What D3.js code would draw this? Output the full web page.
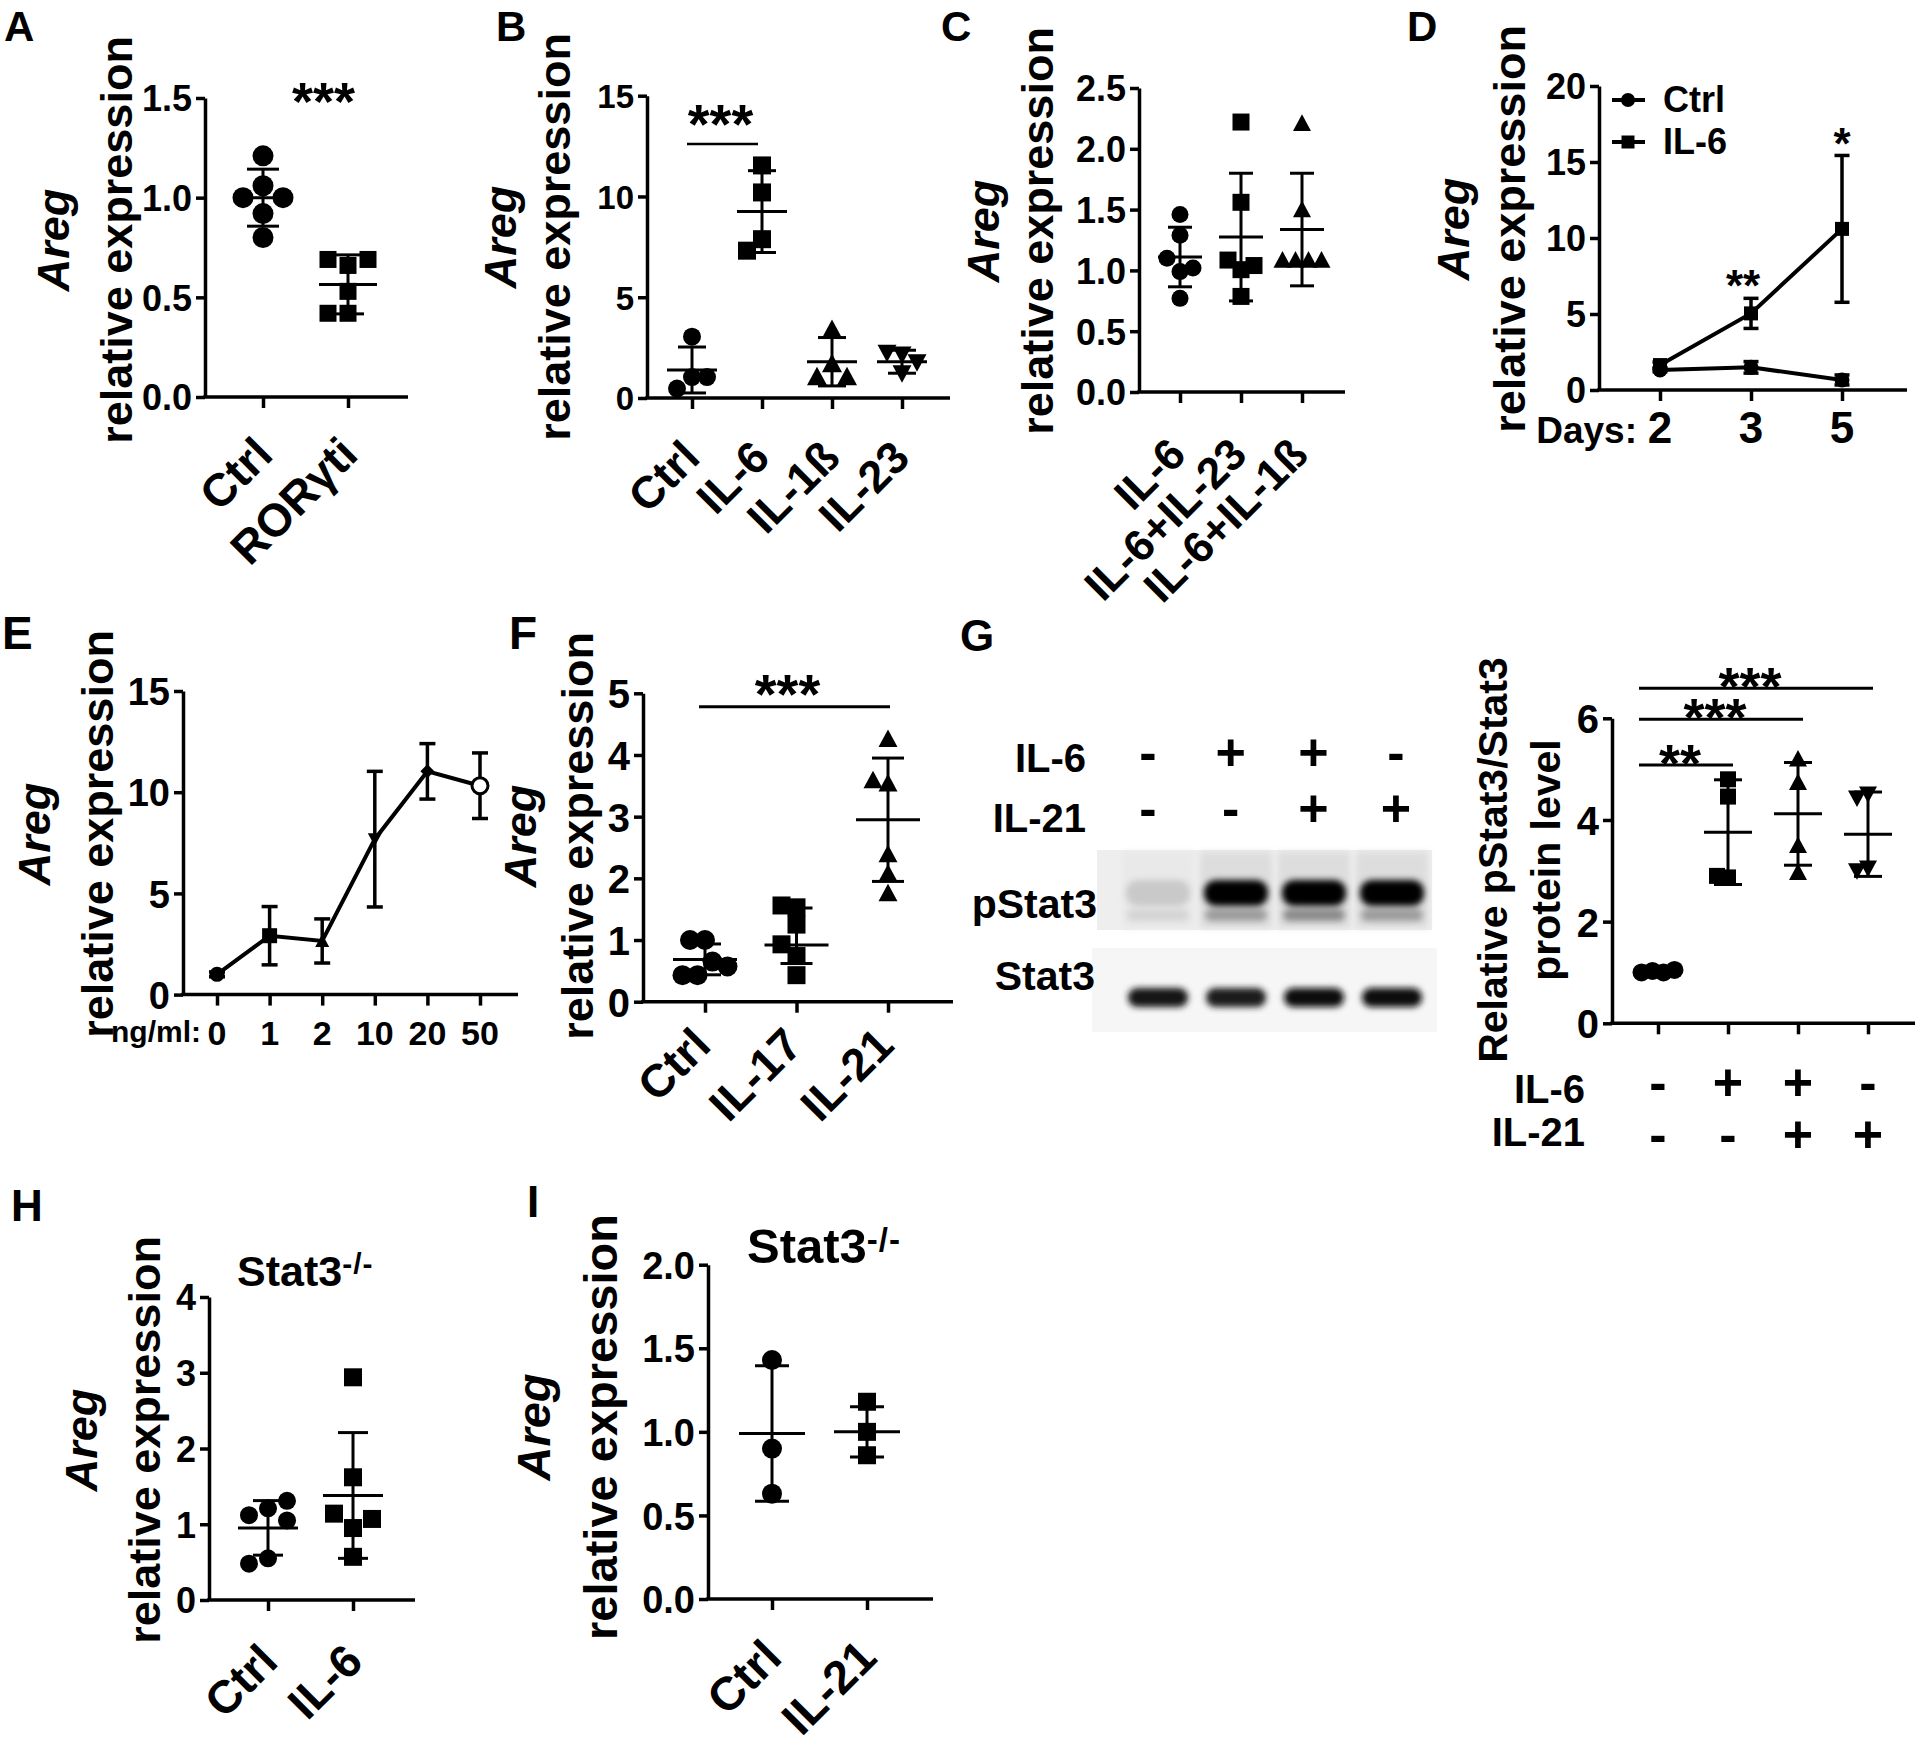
<!DOCTYPE html>
<html>
<head>
<meta charset="utf-8">
<script src="https://cdn.jsdelivr.net/npm/d3@7"></script>
<style>
  body { margin: 0; background: #fff; }
  #fig text { font-family: "Liberation Sans", Arial, Helvetica, sans-serif; font-weight: bold; fill: #000; }
</style>
</head>
<body>
<svg id="fig" width="1920" height="1745"></svg>
<script>
// ---------- data ----------
// A
const aGroups = ["Ctrl", "RORγti"];
const aValues = [[1.21, 1.06, 1.0, 1.0, 0.92, 0.80], [0.66, 0.69, 0.69, 0.53, 0.42, 0.42]];
const aMean = [1.0, 0.565];
const aSd = [0.143, 0.148];
// B
const bGroups = ["Ctrl", "IL-6", "IL-1ß", "IL-23"];
const bValues = [[3.04, 1.04, 0.47, 1.04], [11.54, 10.2, 7.88, 7.31], [3.4, 1.7, 1.05, 1.05], [2.15, 2.24, 1.77, 1.23]];
const bMean = [1.39, 9.25, 1.8, 1.8];
const bSd = [1.14, 2.03, 1.2, 0.57];
// C
const cGroups = ["IL-6", "IL-6+IL-23", "IL-6+IL-1ß"];
const cValues = [[1.46, 1.29, 0.99, 1.10, 1.02, 0.77], [2.22, 1.56, 1.006, 1.085, 1.04, 0.786], [2.21, 1.50, 1.085, 1.085, 1.085, 1.085]];
const cMean = [1.11, 1.274, 1.336];
const cSd = [0.245, 0.525, 0.463];
// D
const dDays = ["2", "3", "5"];
const dCtrlMean = [1.32, 1.49, 0.66];
const dCtrlErr = [0.12, 0.38, 0.33];
const dIl6Mean = [1.64, 5.04, 10.6];
const dIl6Err = [0.2, 0.99, 4.83];
const dStars = ["", "**", "*"];
// E
const eDoses = ["0", "1", "2", "10", "20", "50"];
const eMean = [1.0, 2.91, 2.65, 7.68, 11.03, 10.32];
const eErr = [0.12, 1.44, 1.09, 3.35, 1.37, 1.62];
// F
const fGroups = ["Ctrl", "IL-17", "IL-21"];
const fValues = [[1.0, 1.0, 0.65, 0.43, 0.57, 0.43], [1.53, 1.56, 1.25, 0.74, 0.93, 0.43], [4.26, 3.54, 3.59, 2.39, 2.08, 1.76]];
const fMean = [0.686, 0.92, 2.95];
const fErr = [0.25, [0.62, 1.52], 1.0];
// G
const gLanes = ["Ctrl", "IL-6", "IL-6+IL-21", "IL-21"];
const gIl6Signs = ["-", "+", "+", "-"];
const gIl21Signs = ["-", "-", "+", "+"];
const gPStat3 = [0.15, 1, 1, 1];
const gPStat3Minor = [0.1, 0.35, 0.42, 0.35];
const gStat3 = [0.92, 0.9, 0.95, 0.95];
const gValues = [[1.0, 1.03, 1.05, 1.0], [4.80, 4.46, 2.87, 2.90], [5.2, 4.74, 3.5, 2.97], [4.51, 4.43, 3.05, 3.0]];
const gMean = [1.02, 3.76, 4.12, 3.72];
const gSd = [0.03, 1.03, 1.01, 0.83];
const gSig = [{ to: 1, level: 5.08, label: "**" }, { to: 2, level: 5.98, label: "***" }, { to: 3, level: 6.59, label: "***" }];
// H
const hGroups = ["Ctrl", "IL-6"];
const hValues = [[1.21, 1.12, 1.31, 1.05, 0.55, 0.48], [2.94, 1.62, 0.95, 1.14, 1.07, 0.57]];
const hMean = [0.952, 1.38];
const hSd = [0.36, 0.83];
// I
const iGroups = ["Ctrl", "IL-21"];
const iValues = [[1.43, 0.90, 0.63], [1.18, 1.0, 0.86]];
const iMean = [0.99, 1.0];
const iSd = [0.405, 0.15];

// ---------- helpers ----------
const svg = d3.select("#fig");

svg.append("defs").append("filter").attr("id", "blur")
  .attr("x", "-50%").attr("y", "-50%").attr("width", "200%").attr("height", "200%")
  .append("feGaussianBlur").attr("stdDeviation", 3.2);

function letter(t, x, y, fs) {
  svg.append("text").attr("x", x).attr("y", y).attr("font-size", fs).text(t);
}

function markerPath(shape, s) {
  const h = s / 2;
  if (shape === "circle" || shape === "circleOpen") {
    const p = d3.path(); p.arc(0, 0, h, 0, 2 * Math.PI); p.closePath(); return p.toString();
  }
  if (shape === "square") return `M${-h},${-h}H${h}V${h}H${-h}Z`;
  if (shape === "triangle") return `M0,${-h}L${h},${h * 0.85}L${-h},${h * 0.85}Z`;
  if (shape === "triangleDown") return `M0,${h}L${h},${-h * 0.85}L${-h},${-h * 0.85}Z`;
  if (shape === "diamond") return `M0,${-h}L${h},0L0,${h}L${-h},0Z`;
}

// simple scatter spreading, like the prism column scatter
function swarm(vals, y, size, step) {
  const pts = [];
  vals.forEach(v => {
    const py = y(v);
    let dx = 0;
    for (let i = 0; i < 30; i++) {
      dx = i === 0 ? 0 : (i % 2 ? -1 : 1) * Math.ceil(i / 2) * step;
      const hit = pts.some(p => Math.abs(p.dx - dx) < step * 0.9 && Math.abs(p.y - py) < size * 0.95);
      if (!hit) break;
    }
    pts.push({ v, y: py, dx });
  });
  const comp = pts.map((_, i) => i);
  const find = i => comp[i] === i ? i : (comp[i] = find(comp[i]));
  pts.forEach((p, i) => pts.forEach((q, j) => {
    if (j > i && Math.abs(p.y - q.y) < size * 0.95) comp[find(i)] = find(j);
  }));
  d3.groups(pts.map((p, i) => [find(i), p]), d => d[0]).forEach(([, list]) => {
    const ps = list.map(d => d[1]);
    const m = d3.mean(ps, p => p.dx);
    if (ps.length >= 3 && Math.abs(m) >= step * 0.4) ps.forEach(p => { p.dx -= m; });
  });
  return pts;
}

function drawYAxis(g, y, o) {
  const a = g.append("g").attr("transform", `translate(${o.ax},0)`)
    .call(d3.axisLeft(y).tickValues(o.ticks).tickFormat(d3.format(o.fmt)).tickSize(9).tickSizeOuter(0).tickPadding(4));
  a.attr("font-family", null).attr("font-size", null);
  a.select(".domain").attr("stroke-width", 3.5);
  a.selectAll(".tick line").attr("stroke-width", 3.5);
  a.selectAll(".tick text").attr("font-size", o.tickFs).attr("dy", "0.36em");
}

function drawXAxis(g, x, o) {
  g.append("line").attr("x1", o.ax - 1.75).attr("x2", o.x1).attr("y1", o.y0).attr("y2", o.y0)
    .attr("stroke", "#000").attr("stroke-width", 3.5);
  const a = g.append("g").attr("transform", `translate(0,${o.y0})`)
    .call(d3.axisBottom(x).tickSize(11).tickSizeOuter(0).tickFormat(""));
  a.select(".domain").remove();
  a.selectAll(".tick text").remove();
  a.selectAll(".tick line").attr("stroke-width", 3.5);
}

function yTitle(g, lines, xs, cy, fs) {
  lines.forEach((t, i) => {
    g.append("text").attr("transform", `translate(${xs[i]},${cy}) rotate(-90)`)
      .attr("text-anchor", "middle").attr("font-size", fs)
      .attr("font-style", t === "Areg" ? "italic" : null).text(t);
  });
}

function stars(g, t, cx, cy, fs) {
  g.append("text").attr("x", cx).attr("y", cy + 0.57 * fs)
    .attr("text-anchor", "middle").attr("font-size", fs).text(t);
}

function errBar(g, cx, y, lo, hi, cap, w) {
  const eb = g.append("g").attr("stroke", "#000").attr("stroke-width", w || 3);
  eb.append("line").attr("x1", cx).attr("x2", cx).attr("y1", y(lo)).attr("y2", y(hi));
  [lo, hi].forEach(v => eb.append("line").attr("x1", cx - cap).attr("x2", cx + cap).attr("y1", y(v)).attr("y2", y(v)));
  return eb;
}

function dotPanel(o) {
  const g = svg.append("g");
  const y = d3.scaleLinear().domain(o.domain).range([o.y0, o.y1]);
  const x = d3.scalePoint().domain(o.groups).range(o.xr);
  drawYAxis(g, y, o);
  drawXAxis(g, x, o);
  if (o.labels !== false) {
    g.append("g").selectAll("text").data(o.groups).join("text")
      .attr("transform", d => `translate(${x(d) + o.ldx},${o.y0 + o.ldy}) rotate(-45)`)
      .attr("text-anchor", "end").attr("font-size", o.lfs).text(d => d);
  }
  o.groups.forEach((grp, i) => {
    const size = o.sizes[i];
    const pts = swarm(o.values[i], y, size, o.step);
    g.append("g").selectAll("path").data(pts).join("path")
      .attr("d", markerPath(o.shapes[i], size))
      .attr("transform", p => `translate(${x(grp) + p.dx},${p.y})`)
      .attr("fill", "#000");
    const m = o.mean[i], e = o.err[i];
    const [lo, hi] = Array.isArray(e) ? e : [m - e, m + e];
    const eb = errBar(g, x(grp), y, lo, hi, o.capW);
    eb.append("line").attr("x1", x(grp) - o.meanW).attr("x2", x(grp) + o.meanW).attr("y1", y(m)).attr("y2", y(m));
  });
  return { g, x, y };
}

function title(g, x, y, fs, sfs, sdy) {
  const t = g.append("text").attr("x", x).attr("y", y).attr("font-size", fs).text("Stat3");
  t.append("tspan").attr("font-size", sfs).attr("dy", sdy).attr("letter-spacing", 1).text("-/-");
}

// ---------- A ----------
const A = dotPanel({ groups: aGroups, values: aValues, mean: aMean, err: aSd,
  shapes: ["circle", "square"], sizes: [21, 17], step: 20, meanW: 29, capW: 16,
  domain: [0, 1.5], ticks: [0, 0.5, 1, 1.5], fmt: ".1f", tickFs: 36,
  ax: 205, x1: 408, y0: 397, y1: 98, xr: [263, 348], lfs: 46, ldx: 12, ldy: 60 });
yTitle(A.g, ["Areg", "relative expression"], [69, 132], 240, 45);
stars(A.g, "***", (A.x(aGroups[0]) + A.x(aGroups[1])) / 2 + 18, A.y(1.545), 54);
letter("A", 4, 41, 42);

// ---------- B ----------
const B = dotPanel({ groups: bGroups, values: bValues, mean: bMean, err: bSd,
  shapes: ["circle", "square", "triangle", "triangleDown"], sizes: [18, 18, 20, 19], step: 15, meanW: 25, capW: 14,
  domain: [0, 15], ticks: [0, 5, 10, 15], fmt: "d", tickFs: 33,
  ax: 647, x1: 950, y0: 398, y1: 95.7, xr: [692, 902], lfs: 45, ldx: 10, ldy: 62 });
yTitle(B.g, ["Areg", "relative expression"], [516, 570], 237, 45);
{
  const x1 = B.x("Ctrl") - 5, x2 = B.x("IL-6") - 4, ly = B.y(12.6);
  B.g.append("line").attr("x1", x1).attr("x2", x2).attr("y1", ly).attr("y2", ly).attr("stroke", "#000").attr("stroke-width", 2.5);
  stars(B.g, "***", (x1 + x2) / 2 - 2, ly - 33, 56);
}
letter("B", 496, 41, 42);

// ---------- C ----------
const C = dotPanel({ groups: cGroups, values: cValues, mean: cMean, err: cSd,
  shapes: ["circle", "square", "triangle"], sizes: [17, 17, 18], step: 13, meanW: 22, capW: 12,
  domain: [0, 2.5], ticks: [0, 0.5, 1, 1.5, 2, 2.5], fmt: ".1f", tickFs: 36,
  ax: 1139, x1: 1345, y0: 392, y1: 88, xr: [1180, 1302], lfs: 44, ldx: 8, ldy: 65 });
yTitle(C.g, ["Areg", "relative expression"], [999, 1053], 231, 45);
letter("C", 941, 41, 42);

// ---------- D ----------
{
  const g = svg.append("g");
  const y = d3.scaleLinear().domain([0, 20]).range([390, 86]);
  const x = d3.scalePoint().domain(dDays).range([1660, 1842]);
  drawYAxis(g, y, { ax: 1599, ticks: [0, 5, 10, 15, 20], fmt: "d", tickFs: 36 });
  drawXAxis(g, x, { ax: 1599, x1: 1907, y0: 390 });
  g.append("g").selectAll("text").data(dDays).join("text")
    .attr("x", d => x(d)).attr("y", 443).attr("text-anchor", "middle").attr("font-size", 44).text(d => d);
  g.append("text").attr("x", 1637).attr("y", 443).attr("text-anchor", "end").attr("font-size", 37).text("Days:");
  const series = [
    { name: "Ctrl", mean: dCtrlMean, err: dCtrlErr, shape: "circle", size: 15 },
    { name: "IL-6", mean: dIl6Mean, err: dIl6Err, shape: "square", size: 14 }
  ];
  const line = d3.line();
  series.forEach(s => {
    g.append("path").attr("d", line(dDays.map((d, i) => [x(d), y(s.mean[i])])))
      .attr("fill", "none").attr("stroke", "#000").attr("stroke-width", 4);
    dDays.forEach((d, i) => errBar(g, x(d), y, s.mean[i] - s.err[i], s.mean[i] + s.err[i], 7.5, 3.5));
    g.append("g").selectAll("path").data(dDays).join("path")
      .attr("d", markerPath(s.shape, s.size))
      .attr("transform", (d, i) => `translate(${x(d)},${y(s.mean[i])})`);
  });
  dStars.forEach((t, i) => {
    if (t) stars(g, t, x(dDays[i]) - (t.length > 1 ? 8 : 0), y(dIl6Mean[i] + dIl6Err[i]) - 22, 44);
  });
  series.forEach((s, i) => {
    const ly = 100 + i * 42;
    g.append("line").attr("x1", 1612).attr("x2", 1645).attr("y1", ly).attr("y2", ly).attr("stroke", "#000").attr("stroke-width", 4);
    g.append("path").attr("d", markerPath(s.shape, s.size - 1)).attr("transform", `translate(1628,${ly})`);
    g.append("text").attr("x", 1663).attr("y", ly + 12).attr("font-size", 36).text(s.name);
  });
  yTitle(g, ["Areg", "relative expression"], [1469, 1525], 229, 45);
}
letter("D", 1407, 41, 42);

// ---------- E ----------
{
  const g = svg.append("g");
  const y = d3.scaleLinear().domain([0, 15]).range([994.6, 691]);
  const x = d3.scalePoint().domain(eDoses).range([217, 480]);
  drawYAxis(g, y, { ax: 183, ticks: [0, 5, 10, 15], fmt: "d", tickFs: 38 });
  drawXAxis(g, x, { ax: 183, x1: 518, y0: 994.6 });
  g.append("g").selectAll("text").data(eDoses).join("text")
    .attr("x", d => x(d)).attr("y", 1044.6).attr("text-anchor", "middle").attr("font-size", 34).text(d => d);
  g.append("text").attr("x", 201).attr("y", 1042).attr("text-anchor", "end").attr("font-size", 30).text("ng/ml:");
  eDoses.forEach((d, i) => errBar(g, x(d), y, eMean[i] - eErr[i], eMean[i] + eErr[i], 8, 3.5));
  g.append("path").attr("d", d3.line()(eDoses.map((d, i) => [x(d), y(eMean[i])])))
    .attr("fill", "none").attr("stroke", "#000").attr("stroke-width", 4);
  const shapes = ["circle", "square", "triangle", "triangleDown", "diamond", "circleOpen"];
  const sizes = [15, 15, 14, 14, 14, 16];
  g.append("g").selectAll("path").data(eDoses).join("path")
    .attr("d", (d, i) => markerPath(shapes[i], sizes[i]))
    .attr("transform", (d, i) => `translate(${x(d)},${y(eMean[i])})`)
    .attr("fill", (d, i) => shapes[i] === "circleOpen" ? "#fff" : "#000")
    .attr("stroke", (d, i) => shapes[i] === "circleOpen" ? "#000" : "none")
    .attr("stroke-width", 3);
  yTitle(g, ["Areg", "relative expression"], [50, 113], 834, 45);
}
letter("E", 2, 649, 46);

// ---------- F ----------
const F = dotPanel({ groups: fGroups, values: fValues, mean: fMean, err: fErr,
  shapes: ["circle", "square", "triangle"], sizes: [20, 18, 19], step: 15, meanW: 32, capW: 16,
  domain: [0, 5], ticks: [0, 1, 2, 3, 4, 5], fmt: "d", tickFs: 40,
  ax: 643, x1: 953, y0: 1001.7, y1: 693.3, xr: [705, 888], lfs: 46, ldx: 8, ldy: 46 });
yTitle(F.g, ["Areg", "relative expression"], [536, 593], 836, 45);
{
  const x1 = F.x("Ctrl") - 6, x2 = F.x("IL-21") + 2, ly = F.y(4.78);
  F.g.append("line").attr("x1", x1).attr("x2", x2).attr("y1", ly).attr("y2", ly).attr("stroke", "#000").attr("stroke-width", 3);
  stars(F.g, "***", (x1 + x2) / 2 - 7, ly - 26, 56);
}
letter("F", 509, 649, 46);

// ---------- G : blot ----------
{
  const g = svg.append("g");
  const bx = d3.scalePoint().domain(gLanes).range([1158, 1392]);
  const sx = d3.scalePoint().domain(gLanes).range([1148, 1396]);
  const gray = d3.scaleLinear().domain([0, 1]).range(["#ebebeb", "#050505"]);
  [["IL-6", gIl6Signs, 771.7, 770], ["IL-21", gIl21Signs, 831.7, 826]].forEach(([lab, signs, ly, sy]) => {
    g.append("text").attr("x", 1086).attr("y", ly).attr("text-anchor", "end").attr("font-size", 40).text(lab);
    g.append("g").selectAll("text").data(gLanes).join("text")
      .attr("x", d => sx(d)).attr("y", sy).attr("text-anchor", "middle").attr("font-size", 52)
      .text((d, i) => signs[i]);
  });
  // pStat3 membrane
  g.append("rect").attr("x", 1097).attr("y", 850).attr("width", 335).attr("height", 80).attr("fill", "#eeeeee");
  g.append("g").selectAll("rect").data(gLanes).join("rect")
    .attr("x", d => bx(d) - 36).attr("y", 852).attr("width", 72).attr("height", 76)
    .attr("fill", (d, i) => gray(gPStat3[i] * 0.06)).attr("filter", "url(#blur)");
  g.append("g").selectAll("rect").data(gLanes).join("rect")
    .attr("x", d => bx(d) - 31).attr("y", 909).attr("width", 62).attr("height", 12).attr("rx", 6)
    .attr("fill", (d, i) => gray(gPStat3Minor[i])).attr("filter", "url(#blur)");
  g.append("g").selectAll("rect").data(gLanes).join("rect")
    .attr("x", d => bx(d) - 32).attr("y", 880).attr("width", 64).attr("height", 26).attr("rx", 12)
    .attr("fill", (d, i) => gray(gPStat3[i])).attr("filter", "url(#blur)");
  // Stat3 membrane
  g.append("rect").attr("x", 1092).attr("y", 948).attr("width", 345).attr("height", 84).attr("fill", "#f6f6f6");
  g.append("g").selectAll("rect").data(gLanes).join("rect")
    .attr("x", d => bx(d) - 30).attr("y", 988).attr("width", 60).attr("height", 19).attr("rx", 9)
    .attr("fill", (d, i) => gray(gStat3[i])).attr("filter", "url(#blur)");
  g.append("text").attr("x", 1097).attr("y", 918).attr("text-anchor", "end").attr("font-size", 41).text("pStat3");
  g.append("text").attr("x", 1095).attr("y", 990).attr("text-anchor", "end").attr("font-size", 41).text("Stat3");
}
letter("G", 960, 651, 44);

// ---------- G : quantification ----------
const G = dotPanel({ groups: gLanes, values: gValues, mean: gMean, err: gSd,
  shapes: ["circle", "square", "triangle", "triangleDown"], sizes: [18, 16, 18, 18], step: 11, meanW: 24, capW: 14,
  domain: [0, 6], ticks: [0, 2, 4, 6], fmt: "d", tickFs: 40,
  ax: 1612, x1: 1915, y0: 1023.3, y1: 718.3, xr: [1658, 1868], labels: false });
yTitle(G.g, ["Relative pStat3/Stat3", "protein level"], [1507, 1560], 860, 41);
gSig.forEach(s => {
  const x1 = G.x(gLanes[0]) - 19, x2 = G.x(gLanes[s.to]) + 5, ly = G.y(s.level);
  G.g.append("line").attr("x1", x1).attr("x2", x2).attr("y1", ly).attr("y2", ly).attr("stroke", "#000").attr("stroke-width", 3);
  stars(G.g, s.label, (x1 + x2) / 2 - 6, ly - 14, 54);
});
[["IL-6", gIl6Signs, 1103, 1100], ["IL-21", gIl21Signs, 1146, 1152]].forEach(([lab, signs, ly, sy]) => {
  G.g.append("text").attr("x", 1585).attr("y", ly).attr("text-anchor", "end").attr("font-size", 40).text(lab);
  G.g.append("g").selectAll("text").data(gLanes).join("text")
    .attr("x", d => G.x(d)).attr("y", sy).attr("text-anchor", "middle").attr("font-size", 52)
    .text((d, i) => signs[i]);
});

// ---------- H ----------
const H = dotPanel({ groups: hGroups, values: hValues, mean: hMean, err: hSd,
  shapes: ["circle", "square"], sizes: [18, 18], step: 19, meanW: 30, capW: 15,
  domain: [0, 4], ticks: [0, 1, 2, 3, 4], fmt: "d", tickFs: 36,
  ax: 209, x1: 415, y0: 1600, y1: 1297, xr: [268, 353], lfs: 46, ldx: 12, ldy: 64 });
yTitle(H.g, ["Areg", "relative expression"], [97, 160], 1440, 45);
title(H.g, 237, 1286, 43, 30, -12);
letter("H", 11, 1221, 44);

// ---------- I ----------
const I = dotPanel({ groups: iGroups, values: iValues, mean: iMean, err: iSd,
  shapes: ["circle", "square"], sizes: [20, 18], step: 19, meanW: 33, capW: 17,
  domain: [0, 2], ticks: [0, 0.5, 1, 1.5, 2], fmt: ".1f", tickFs: 38,
  ax: 708, x1: 933, y0: 1599, y1: 1264.7, xr: [772, 867], lfs: 47, ldx: 12, ldy: 61 });
yTitle(I.g, ["Areg", "relative expression"], [550, 617], 1427, 47);
title(I.g, 747, 1263, 49, 33, -12);
letter("I", 527, 1217, 44);
</script>
</body>
</html>
